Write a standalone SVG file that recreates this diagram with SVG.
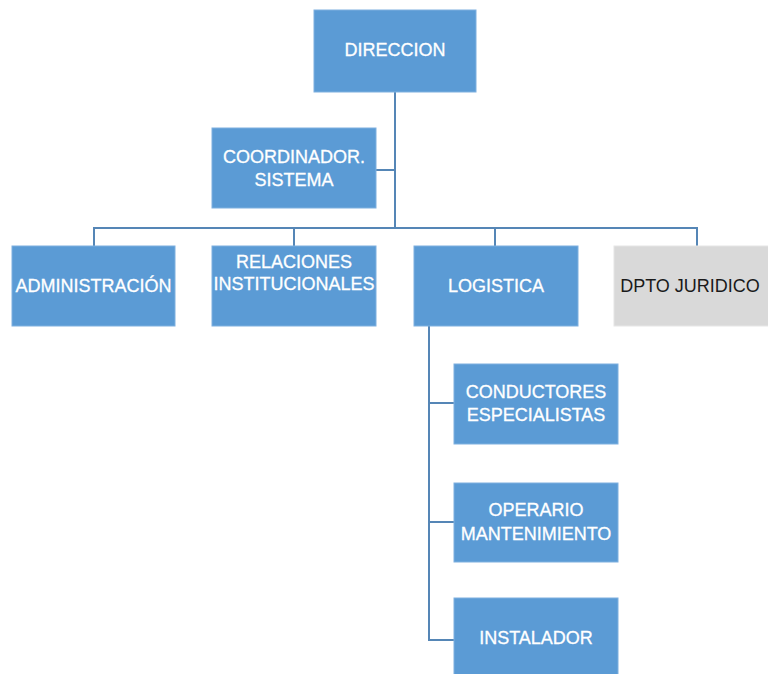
<svg xmlns="http://www.w3.org/2000/svg" width="768" height="674" viewBox="0 0 768 674">
<style>
.box{fill:#5b9bd5;stroke:#7fb0df;stroke-width:1}
.gray{fill:#d9d9d9;stroke:#e6e6e6;stroke-width:1}
.t{font-family:"Liberation Sans",Arial,sans-serif;font-size:18px;fill:#ffffff;stroke:#ffffff;stroke-width:0.3;text-anchor:middle}
.tg{font-family:"Liberation Sans",Arial,sans-serif;font-size:18px;fill:#1a1a1a;text-anchor:middle}
.c{fill:none;stroke:#5586b6;stroke-width:2}
</style>
<rect width="768" height="674" fill="#ffffff"/>
<g id="connectors">
<path class="c" d="M395 92 V228"/>
<path class="c" d="M376 170 H395"/>
<path class="c" d="M94 246 V228 H697 V246"/>
<path class="c" d="M294 228 V246"/>
<path class="c" d="M495 228 V246"/>
<path class="c" d="M429 326 V640 H454"/>
<path class="c" d="M429 403 H454"/>
<path class="c" d="M429 522 H454"/>
</g>
<g id="direccion">
<rect class="box" x="314" y="10" width="162" height="82"/>
<text class="t" x="395" y="56">DIRECCION</text>
</g>
<g id="coordinador">
<rect class="box" x="212" y="128" width="164" height="80"/>
<text class="t" x="294" y="163">COORDINADOR.</text>
<text class="t" x="294" y="186">SISTEMA</text>
</g>
<g id="administracion">
<rect class="box" x="12" y="246" width="163" height="80"/>
<text class="t" x="93.5" y="292">ADMINISTRACIÓN</text>
</g>
<g id="relaciones">
<rect class="box" x="212" y="246" width="164" height="80"/>
<text class="t" x="294" y="268">RELACIONES</text>
<text class="t" x="294" y="290">INSTITUCIONALES</text>
</g>
<g id="logistica">
<rect class="box" x="414" y="246" width="164" height="80"/>
<text class="t" x="496" y="292">LOGISTICA</text>
</g>
<g id="juridico">
<rect class="gray" x="614" y="246" width="160" height="80"/>
<text class="tg" x="690" y="292">DPTO JURIDICO</text>
</g>
<g id="conductores">
<rect class="box" x="454" y="364" width="164" height="80"/>
<text class="t" x="536" y="398">CONDUCTORES</text>
<text class="t" x="536" y="421">ESPECIALISTAS</text>
</g>
<g id="operario">
<rect class="box" x="454" y="483" width="164" height="79"/>
<text class="t" x="536" y="516">OPERARIO</text>
<text class="t" x="536" y="540">MANTENIMIENTO</text>
</g>
<g id="instalador">
<rect class="box" x="454" y="598" width="164" height="80"/>
<text class="t" x="536" y="644">INSTALADOR</text>
</g>
</svg>
